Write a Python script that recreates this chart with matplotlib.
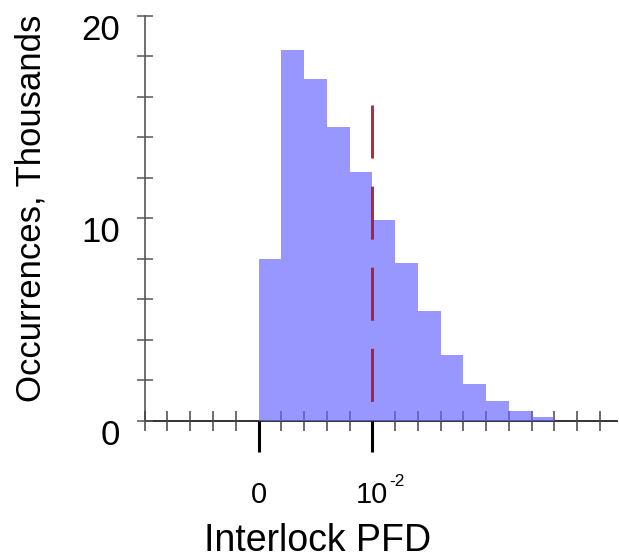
from matplotlib import pyplot
from matplotlib.ticker import MultipleLocator, FixedLocator, NullFormatter
import numpy as np

# histogram of interlock PFD, counts in thousands
bin_edges = [0.000, 0.002, 0.004, 0.006, 0.008, 0.010, 0.012,
             0.014, 0.016, 0.018, 0.020, 0.022, 0.024]
bin_width = 0.002
counts = [8.0, 18.3, 16.9, 14.5, 12.3, 9.9, 7.8, 5.45, 3.26, 1.83, 1.0, 0.49, 0.18]

threshold = 0.01
threshold_span = [15.6, 0.8]

ytick_values = [0, 10, 20]
ytick_labels = ['0', '10', '20']

pyplot.rcParams['font.family'] = ['Liberation Sans', 'DejaVu Sans']

fig = pyplot.figure(figsize=(6.19, 5.58), dpi=100)
ax = fig.add_axes([0.2338, 0.2455, 0.763, 0.7264])

ax.bar(bin_edges, counts, width=bin_width, align='edge',
       color=(0.4, 0.4, 1.0), alpha=0.68, linewidth=0, zorder=1)

# dashed threshold line at 10^-2
lw = 2.16
ax.plot([threshold, threshold], threshold_span, color='#b0142a', lw=lw,
        dashes=(38.2 / lw, 20.2 / lw), alpha=0.9, zorder=2)

ax.set_xlim(-0.01, 0.0315)
ax.set_ylim(0, 20)

for side in ['top', 'right']:
    ax.spines[side].set_visible(False)
ax.spines['left'].set_color('#6e6e6e')
ax.spines['left'].set_linewidth(1.4)
ax.spines['bottom'].set_color('#333333')
ax.spines['bottom'].set_linewidth(1.4)
for side in ['left', 'bottom']:
    ax.spines[side].set_zorder(0.5)
ax.set_axisbelow(True)

# x axis: long ticks at 0 and 10^-2, small crossing ticks every 0.002
ax.xaxis.set_major_locator(FixedLocator([0.0, threshold]))
ax.xaxis.set_minor_locator(MultipleLocator(0.002))
ax.xaxis.set_major_formatter(NullFormatter())
ax.tick_params(axis='x', which='major', direction='out', length=22.3,
               width=2.2, color='black')
ax.tick_params(axis='x', which='minor', direction='inout', length=14.4,
               width=1.1, color='#444444')

ax.yaxis.set_major_locator(MultipleLocator(2))
ax.yaxis.set_major_formatter(NullFormatter())
ax.tick_params(axis='y', which='major', direction='inout', length=12.2,
               width=1.1, color='#555555')

for val, lab in zip(ytick_values, ytick_labels):
    ax.annotate(lab, (-0.01, val), textcoords='offset points',
                xytext=(-18, -10.5), ha='right', va='center', fontsize=25)

ax.annotate('0', (0.0, 0), textcoords='offset points', xytext=(0, -53),
            ha='center', va='center', fontsize=21)
ax.annotate('10', (threshold, 0), textcoords='offset points', xytext=(0, -53),
            ha='center', va='center', fontsize=21)
ax.annotate('-2', (threshold, 0), textcoords='offset points', xytext=(12.5, -43.5),
            ha='left', va='center', fontsize=12.5)

fig.text(318 / 619, 1 - 541 / 558, 'Interlock PFD', ha='center', va='center',
         fontsize=27)
fig.text(31 / 619, 1 - 208 / 558, 'Occurrences, Thousands', ha='center',
         va='center', rotation=90, fontsize=25)

pyplot.savefig('out.png', dpi=100)
